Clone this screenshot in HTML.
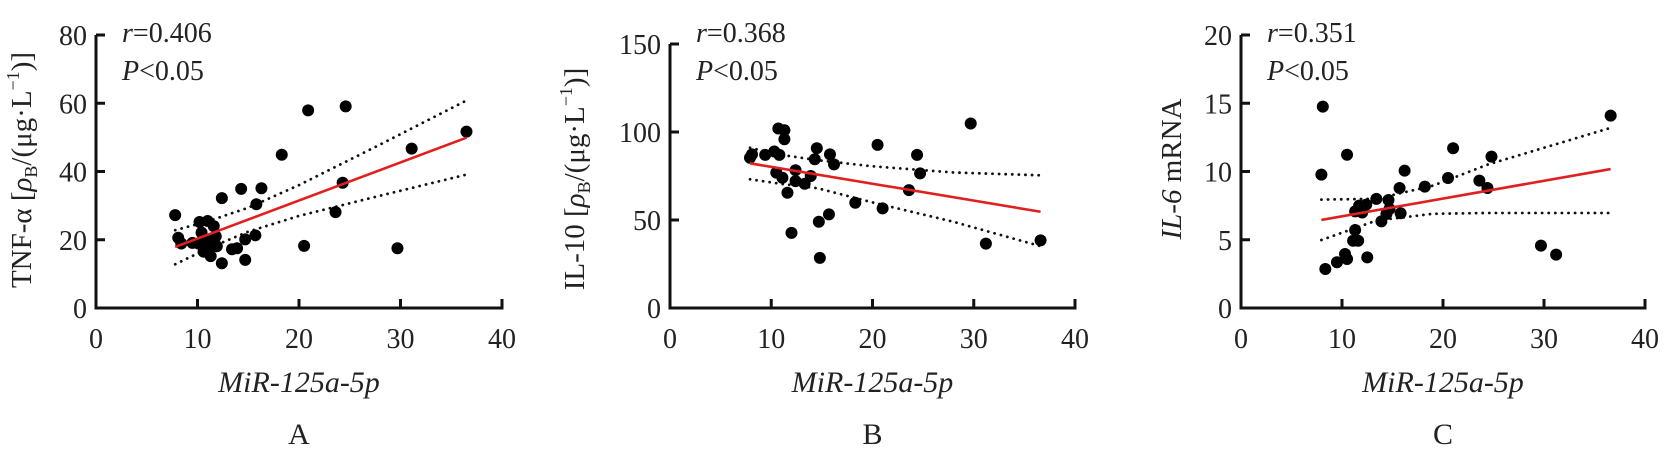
<!DOCTYPE html>
<html><head><meta charset="utf-8">
<style>
html,body{margin:0;padding:0;background:#fff;}
svg{display:block;}
text{font-family:"Liberation Serif","Noto Serif CJK SC",serif;fill:#222;}
</style></head>
<body>
<svg id="chart" width="1672" height="460" viewBox="0 0 1672 460" xmlns="http://www.w3.org/2000/svg"></svg>
<script>
// ---- Panel A data (TNF-α vs MiR-125a-5p)
const aX = [7.8,8.1,8.4,9.5,10.2,11.0,10.4,11.6,11.8,11.9,10.6,11.3,11.0,12.4,12.4,13.4,13.9,14.3,14.7,14.7,15.7,15.8,16.3,18.3,20.5,20.9,23.6,24.3,24.6,29.7,31.1,36.5,11.0,10.1];
const aY = [27.2,20.6,18.9,19.1,25.2,25.5,22.1,24.0,21.0,18.1,16.5,15.2,17.5,13.1,32.2,17.2,17.5,34.9,14.1,20.1,21.3,30.4,35.1,44.9,18.2,57.9,28.1,36.7,59.1,17.5,46.7,51.7,19.9,18.9];
const aFitX = [7.8,36.5];
const aFitY = [17.9,49.9];
const aBandX = [7.8,11,15,20,28,36.5];
const aUpper = [22.8,25.4,29.4,36,47.9,60.8];
const aLower = [12.8,17.4,22.4,27,32.9,39.1];
const aTicksX = [0,10,20,30,40];
const aTicksY = [0,20,40,60,80];
// ---- Panel B data (IL-10)
const bX = [7.9,8.1,9.4,10.3,10.7,11.3,11.3,10.8,10.5,11.1,11.6,12.0,12.4,12.4,13.3,13.9,14.5,14.3,14.7,14.8,15.8,16.2,15.7,18.3,20.5,21.0,23.6,24.4,24.7,29.7,31.2,36.6];
const bY = [85.4,87.3,87,88.9,102,101,95.9,87,76.9,74,65.5,42.7,78.3,72.1,70.6,75,90.8,84.5,49,28.5,87.3,81.6,53.2,59.8,92.7,56.6,67,87,76.5,104.8,36.6,38.4];
const bFitX = [7.9,36.6];
const bFitY = [82.2,54.7];
const bBandX = [7.9,11,14.6,20,28,36.6];
const bUpper = [91,87,84,80.5,77,75.4];
const bLower = [73.1,70.5,68,60,49,35.1];
const bTicksX = [0,10,20,30,40];
const bTicksY = [0,50,100,150];
// ---- Panel C data (IL-6 mRNA)
const cX = [7.96,8.1,8.35,9.5,10.3,10.5,10.5,11.3,11.3,11.1,11.6,11.7,12.0,12.4,12.5,13.4,13.9,14.4,14.6,14.7,15.8,15.7,16.2,18.2,20.5,21.0,23.6,24.4,24.8,29.7,31.2,36.6];
const cY = [9.77,14.75,2.86,3.35,3.96,3.59,11.23,7.08,5.71,4.93,4.93,7.5,7.0,7.57,3.71,7.99,6.35,6.89,7.91,7.25,6.94,8.79,10.06,8.89,9.52,11.7,9.33,8.79,11.09,4.57,3.91,14.09];
const cFitX = [7.96,36.6];
const cFitY = [6.45,10.18];
const cBandX = [7.96,13.4,19,24.4,36.6];
const cUpper = [7.94,8.0,8.96,10.5,13.2];
const cLower = [4.98,6.4,6.9,6.96,6.96];
const cTicksX = [0,10,20,30,40];
const cTicksY = [0,5,10,15,20];

const NS = "http://www.w3.org/2000/svg";
const svg = document.getElementById('chart');
function mk(tag, attrs, parent){
  const e = document.createElementNS(NS, tag);
  for (const k in attrs) e.setAttribute(k, attrs[k]);
  (parent||svg).appendChild(e);
  return e;
}

function panel(id, left, right, bottom, top, yMax, xs, ys, fitX, fitY, bandX, up, lo, ticksX, ticksY, rText, yTitleFn, yTitleX, yTitleCY, letter){
  const g = mk('g', {});
  
  
  const sx = v => left + (v/40)*(right-left);
  const sy = v => bottom - (v/yMax)*(bottom-top);
  // axes
  const axes = mk('path', {d:`M${left} ${top} L${left} ${bottom} L${right} ${bottom} L${right} ${bottom-9}`, fill:'none', stroke:'#111', 'stroke-width':3}, g);
  
  
  ticksY.forEach(t => {
    const tk = mk('line', {x1:left, x2:left+9, y1:sy(t), y2:sy(t), stroke:'#111','stroke-width':3}, g);
    
    
    const tl = mk('text', {x:left-9, y:sy(t)+10, 'text-anchor':'end', 'font-size':28}, g);
    tl.textContent = t;
    
    
  });
  ticksX.forEach(t => {
    if (t>0){
      const tk = mk('line', {x1:sx(t), x2:sx(t), y1:bottom, y2:bottom-9, stroke:'#111','stroke-width':3}, g);
      
      
    }
    const tl = mk('text', {x:sx(t), y:bottom+40, 'text-anchor':'middle', 'font-size':28}, g);
    tl.textContent = t;
    
    
  });
  // bands
  [up, lo].forEach((arr, i) => {
    const d = arr.map((v,k)=> (k?'L':'M') + sx(bandX[k]).toFixed(1) + ' ' + sy(v).toFixed(1)).join(' ');
    const p = mk('path', {d, fill:'none', stroke:'#111', 'stroke-width':2.8, 'stroke-dasharray':'0.1 6.5', 'stroke-linecap':'round'}, g);
    
    
  });
  // points
  xs.forEach((x,k) => {
    const c = mk('circle', {cx:sx(x), cy:sy(ys[k]), r:6, fill:'#000'}, g);
    
    
  });
  // fit
  const fit = mk('line', {x1:sx(fitX[0]), y1:sy(fitY[0]), x2:sx(fitX[1]), y2:sy(fitY[1]), stroke:'#e02020', 'stroke-width':2.6}, g);
  
  
  // stats
  const r = mk('text', {x:left+26, y:42, 'font-size':28}, g);
  r.innerHTML = '<tspan font-style="italic">r</tspan>=' + rText;
  
  
  const p = mk('text', {x:left+26, y:80, 'font-size':28}, g);
  p.innerHTML = '<tspan font-style="italic">P</tspan>&lt;0.05';
  
  
  // x title
  const xt = mk('text', {x:(left+right)/2, y:392, 'text-anchor':'middle', 'font-size':30, 'font-style':'italic'}, g);
  xt.textContent = 'MiR-125a-5p';
  
  
  // y title
  const yt = mk('text', {x:0, y:0, 'text-anchor':'middle', 'font-size':29, transform:`translate(${yTitleX},${yTitleCY}) rotate(-90)`}, g);
  yt.innerHTML = yTitleFn;
  
  
  // letter
  const lt = mk('text', {x:(left+right)/2, y:444, 'text-anchor':'middle', 'font-size':30}, g);
  lt.textContent = letter;
  
  
}

const unit = '[<tspan font-style="italic">ρ</tspan><tspan font-size="18" dy="6">B</tspan><tspan dy="-6">/(μg·L</tspan><tspan font-size="18" dy="-12">−1</tspan><tspan dy="12">)]</tspan>';
panel('a', 96, 502, 308, 35, 80, aX, aY, aFitX, aFitY, aBandX, aUpper, aLower, aTicksX, aTicksY, '0.406',
  'TNF-α  ' + unit, 31, 170, 'A');
panel('b', 670, 1075, 308, 44, 150, bX, bY, bFitX, bFitY, bBandX, bUpper, bLower, bTicksX, bTicksY, '0.368',
  'IL-10 ' + unit, 584, 179, 'B');
panel('c', 1241, 1645, 308, 35, 20, cX, cY, cFitX, cFitY, cBandX, cUpper, cLower, cTicksX, cTicksY, '0.351',
  '<tspan font-style="italic">IL-6</tspan> mRNA', 1181, 169, 'C');
</script>
</body></html>
